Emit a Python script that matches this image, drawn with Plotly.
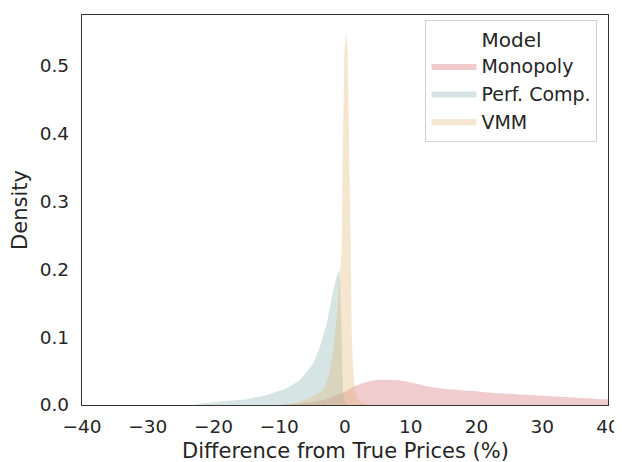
import plotly.graph_objects as go

# ---- data ----
models = ["Monopoly", "Perf. Comp.", "VMM"]

mono_x = [-10, -8.9, -6.8, -4.9, -3.0, -1.3, 0.0, 1.3, 3.3, 5.3, 8.4, 10.5, 12.9, 16.0, 20.5, 24.0, 28.0, 34.0, 39.6, 45.0]
mono_y = [0.0, 0.001, 0.002, 0.004, 0.008, 0.0147, 0.020, 0.027, 0.034, 0.037, 0.036, 0.032, 0.027, 0.023, 0.0196, 0.017, 0.0147, 0.0115, 0.0084, 0.006]

pc_x = [-23, -22, -19, -14.95, -11.9, -8.87, -6.84, -4.82, -3.8, -2.78, -1.78, -1.3, -0.87, -0.7, -0.55, -0.45, -0.3, 0.0, 0.5]
pc_y = [0.0, 0.002, 0.005, 0.0084, 0.0147, 0.0245, 0.0368, 0.061, 0.086, 0.12, 0.169, 0.188, 0.1996, 0.17, 0.11, 0.05, 0.015, 0.004, 0.0]

vmm_x = [-9, -7, -5, -3.3, -2.5, -1.77, -1.27, -0.8, -0.5, -0.35, -0.1, 0.15, 0.41, 0.65, 0.87, 0.92, 1.0, 1.2, 1.5, 1.9, 2.3, 3.5]
vmm_y = [0.0, 0.004, 0.012, 0.022, 0.042, 0.081, 0.13, 0.185, 0.23, 0.37, 0.518, 0.549, 0.518, 0.37, 0.27, 0.2, 0.116, 0.06, 0.022, 0.01, 0.005, 0.0]

x_ticks = [-40, -30, -20, -10, 0, 10, 20, 30, 40]
y_ticks = [0.0, 0.1, 0.2, 0.3, 0.4, 0.5]

fills = {
    "Monopoly": "rgba(214,100,110,0.33)",
    "Perf. Comp.": "rgba(132,175,172,0.33)",
    "VMM": "rgba(226,178,109,0.33)",
}

series = {
    "Monopoly": (mono_x, mono_y, "spline"),
    "Perf. Comp.": (pc_x, pc_y, "linear"),
    "VMM": (vmm_x, vmm_y, "linear"),
}

fig = go.Figure()
for name in models:
    xs, ys, shape = series[name]
    fig.add_trace(go.Scatter(
        x=xs, y=ys, name=name, mode="lines",
        line=dict(width=0, color=fills[name], shape=shape, smoothing=0.8),
        fill="tozeroy", fillcolor=fills[name],
        hoverinfo="skip",
    ))

font_col = "#262626"
fig.update_layout(
    width=622, height=462,
    margin=dict(l=74, r=22, t=7, b=65, autoexpand=False),
    paper_bgcolor="white", plot_bgcolor="white",
    font=dict(family="DejaVu Sans", size=18, color=font_col),
    showlegend=True,
    legend=dict(
        title=dict(text="Model", side="top center", font=dict(size=20)),
        x=0.98, y=0.987, xanchor="right", yanchor="top",
        bgcolor="rgba(255,255,255,0.8)", bordercolor="#d0d0d0", borderwidth=1,
        font=dict(size=19), itemsizing="constant", tracegroupgap=0,
        itemwidth=45,
    ),
    annotations=[dict(
        text="Difference from True Prices (%)", xref="paper", yref="paper",
        x=0.5, y=-0.118, xanchor="center", yanchor="middle", showarrow=False,
        font=dict(size=21, color=font_col),
    )],
)
fig.update_xaxes(
    range=[-40, 40], tickvals=x_ticks, ticks="", showgrid=False, zeroline=False,
    showline=True, linecolor="#333333", linewidth=1.3, mirror=True, automargin=False,
    tickfont=dict(size=18.5), ticklabelstandoff=5, ticklabeloverflow="allow",
)
fig.update_yaxes(
    range=[0, 0.574], tickvals=y_ticks, tickformat=".1f", ticks="", showgrid=False, zeroline=False,
    showline=True, linecolor="#333333", linewidth=1.3, mirror=True, automargin=False,
    title=dict(text="Density", font=dict(size=21), standoff=6),
    tickfont=dict(size=18.5), ticklabelstandoff=8,
)

fig.write_html("out.html")
